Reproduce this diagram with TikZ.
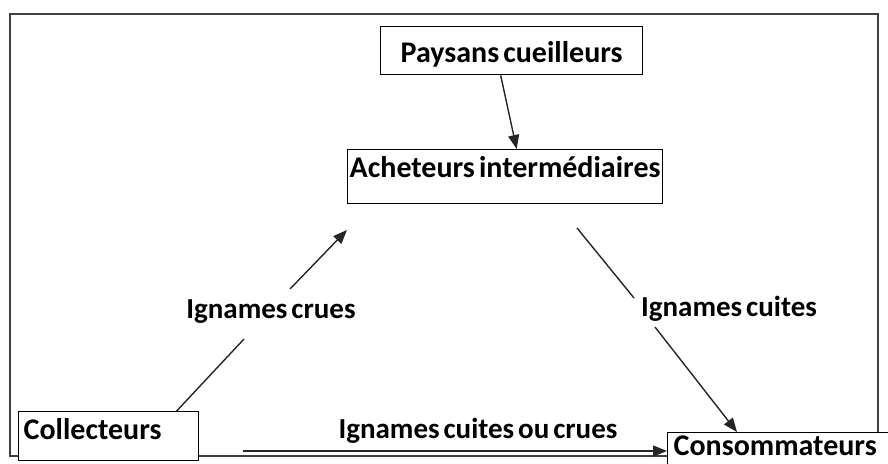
\documentclass[tikz,border=0pt]{standalone}
\usepackage{fontspec}
\setmainfont{Carlito}[WordSpace=0.6]
\usetikzlibrary{arrows.meta}
\begin{document}
\begin{tikzpicture}[x=1pt,y=-1pt,
  box/.style={draw=black,line width=1.3pt,fill=white,inner ysep=0pt,anchor=north west,
    font=\fontsize{30}{30}\selectfont\bfseries},
  lab/.style={inner sep=0pt,anchor=base,font=\fontsize{29}{29}\selectfont\bfseries},
  conn/.style={line width=1.4pt,draw=black!85},
  arr/.style={conn,-{Triangle[length=14pt,width=11pt]}}]
\useasboundingbox (0,0) rectangle (888,463);
% outer frame
\draw[line width=1.6pt,draw=black!75] (10,14) rectangle (878,456);
% boxes
\node[box,inner xsep=0pt,minimum width=262pt,text height=36pt,text depth=12pt] (pay) at (380,26) {Paysans cueilleurs};
\node[box,inner xsep=0pt,minimum width=315pt,text height=28pt,text depth=26pt] (ach) at (347,149) {Acheteurs intermédiaires};
\node[box,inner xsep=5pt,text width=170pt,align=left,text height=28pt,text depth=21pt] (col) at (18,411) {Collecteurs};
\node[box,inner xsep=6pt,text width=240pt,align=left,text height=23pt,text depth=20pt] (con) at (667,432) {Consommateurs};
% labels
\node[lab] (l1) at (271,318) {Ignames crues};
\node[lab] (l2) at (729,316) {Ignames cuites};
\node[lab] (l3) at (478,438) {Ignames cuites ou crues};
% connector coordinates
\coordinate (a1) at (244,339);
\coordinate (a2) at (290,289);
\coordinate (b1) at (577,228);
\coordinate (b2) at (634,298);
\coordinate (b3) at (655,327);
\coordinate (c1) at (243,451);
% connectors
\draw[arr] ([xshift=-11pt]pay.south) -- ([xshift=11.5pt]ach.north);
\draw[conn] ([xshift=68pt]col.north) -- (a1);
\draw[arr] (a2) -- (347,230) coordinate (a3);
\draw[conn] (b1) -- (b2);
\draw[arr] (b3) -- ([xshift=70pt]con.north west);
\draw[arr] (c1) -- (c1 -| con.west);
\end{tikzpicture}
\end{document}
